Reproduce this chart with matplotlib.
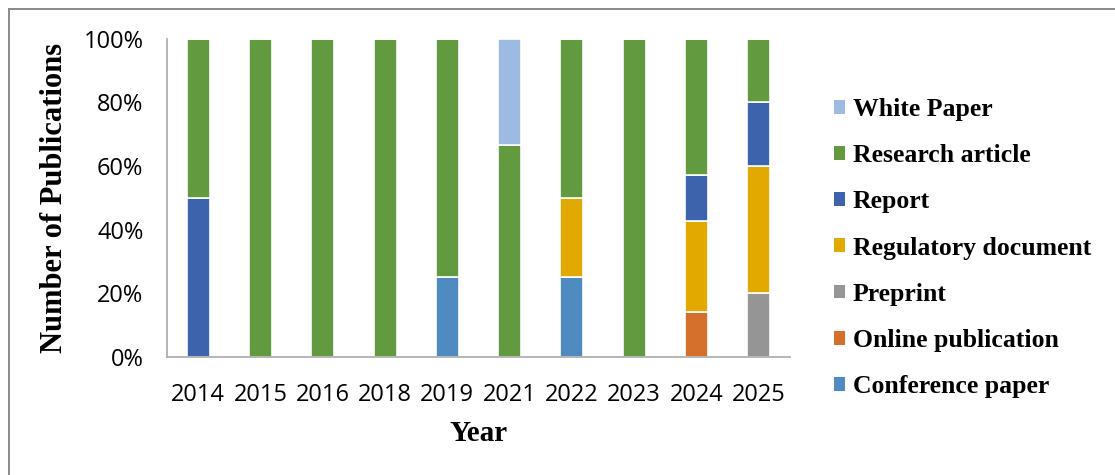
import numpy as np
import matplotlib
matplotlib.use("Agg")
import matplotlib.pyplot as plt
from matplotlib.lines import Line2D
from matplotlib.patches import Patch

# publication counts per year, by type
years = ["2014", "2015", "2016", "2018", "2019", "2021", "2022", "2023", "2024", "2025"]
conference_paper = [0, 0, 0, 0, 1, 0, 1, 0, 0, 0]
online_publication = [0, 0, 0, 0, 0, 0, 0, 0, 1, 0]
preprint = [0, 0, 0, 0, 0, 0, 0, 0, 0, 1]
regulatory_document = [0, 0, 0, 0, 0, 0, 1, 0, 2, 2]
report = [1, 0, 0, 0, 0, 0, 0, 0, 1, 1]
research_article = [1, 1, 1, 1, 3, 2, 2, 1, 3, 1]
white_paper = [0, 0, 0, 0, 0, 1, 0, 0, 0, 0]

series = [
    ("Conference paper", conference_paper, "#4f8bc0"),
    ("Online publication", online_publication, "#d5702c"),
    ("Preprint", preprint, "#959595"),
    ("Regulatory document", regulatory_document, "#e2aa00"),
    ("Report", report, "#3d63ad"),
    ("Research article", research_article, "#629a3f"),
    ("White Paper", white_paper, "#9dbbe1"),
]

totals = np.sum([np.array(v) for _, v, _ in series], axis=0)

SANS = "Open Sans"
SERIF = "Liberation Serif"

fig = plt.figure(figsize=(11.15, 4.75), dpi=100)
ax = fig.add_axes([0.1498, 0.2484, 0.5587, 0.6701])

x = np.arange(len(years))
bottom = np.zeros(len(years))
for name, vals, color in series:
    pct = np.array(vals) / totals * 100
    ax.bar(x, pct, width=0.37, bottom=bottom, color=color,
           edgecolor="white", linewidth=1.2, label=name)
    bottom += pct

ax.set_xlim(-0.5, len(years) - 0.5)
ax.set_ylim(0, 100)
ax.set_xticks(x)
ax.set_xticklabels(years, fontfamily=SANS, fontsize=17)
ax.set_yticks(np.arange(0, 101, 20))
ax.set_yticklabels([f"{v}%" for v in range(0, 101, 20)], fontfamily=SANS, fontsize=17)
ax.tick_params(axis="both", length=0)
ax.tick_params(axis="y", pad=17)
ax.tick_params(axis="x", pad=19)

for s in ["top", "right"]:
    ax.spines[s].set_visible(False)
for s in ["left", "bottom"]:
    ax.spines[s].set_color("#b0b0b0")
    ax.spines[s].set_linewidth(1.3)

ax.set_ylabel("Number of Publications", fontfamily=SERIF, fontweight="bold", fontsize=22)
ax.yaxis.set_label_coords(-0.158, 0.5)
ax.set_xlabel("Year", fontfamily=SERIF, fontweight="bold", fontsize=21)
ax.xaxis.set_label_coords(0.5, -0.198)

handles = [Patch(facecolor=c, edgecolor="none") for _, _, c in series][::-1]
labels = [n for n, _, _ in series][::-1]
fig.legend(handles, labels, loc="upper left", bbox_to_anchor=(0.727, 0.842),
           frameon=False, handlelength=0.45, handleheight=0.45, handletextpad=0.3,
           labelspacing=0.9,
           prop={"family": SERIF, "weight": "bold", "size": 18.5})

# thin frame around the chart area
fig.add_artist(Line2D([9 / 1115, 1], [1 - 8.5 / 475, 1 - 8.5 / 475],
                      transform=fig.transFigure, color="#8a8a8a", lw=1.4))
fig.add_artist(Line2D([9 / 1115, 9 / 1115], [0, 1 - 8.5 / 475],
                      transform=fig.transFigure, color="#8a8a8a", lw=1.4))

fig.savefig("out.png", dpi=100)
